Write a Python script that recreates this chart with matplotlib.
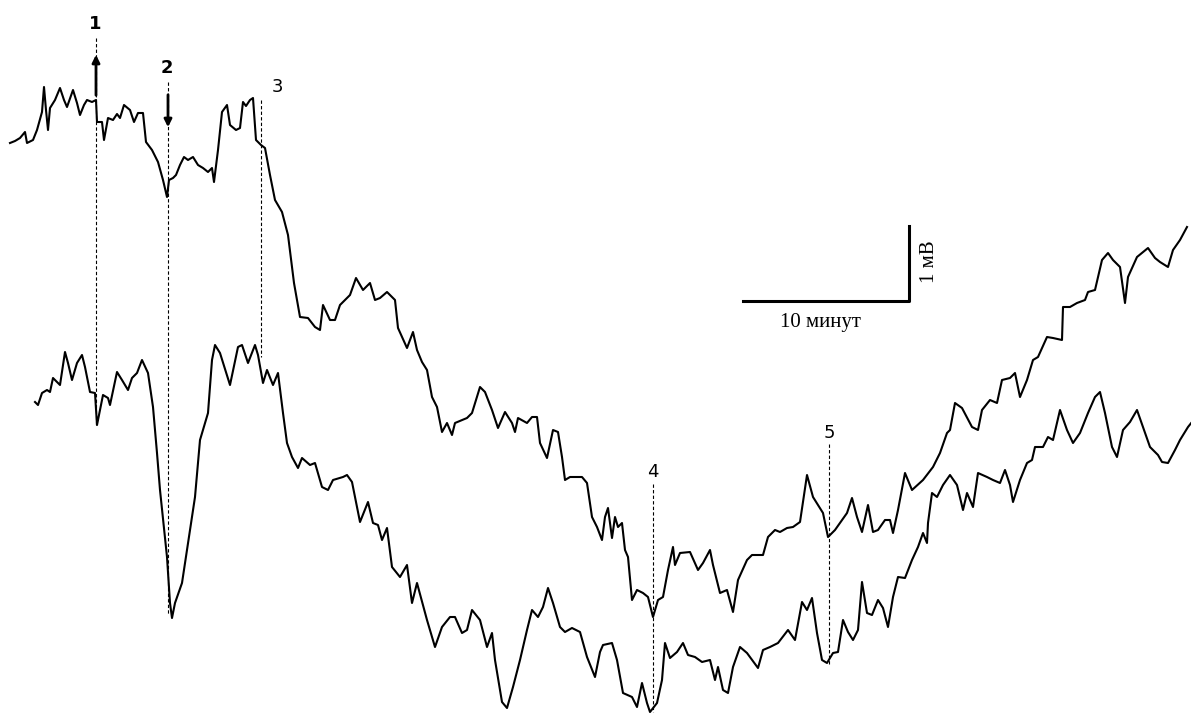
import numpy as np
import matplotlib
matplotlib.use('Agg')
import matplotlib.pyplot as plt

# traces (x: time, y: potential, both in image units)
upper_x = [10, 15, 20, 25, 27, 33, 37, 42, 44, 46, 48, 50, 55, 60, 64, 67, 73, 77, 80, 84,
           87, 92, 96, 97, 102, 104, 108, 113, 117, 120, 124, 130, 134, 138, 143, 146, 152, 158, 163, 167,
           169, 173, 176, 180, 184, 188, 193, 198, 203, 208, 212, 214, 218, 222, 227, 230, 236, 240, 243, 246,
           250, 253, 256, 261, 265, 270, 275, 282, 288, 294, 300, 308, 315, 320, 323, 330, 335, 340, 345, 350,
           356, 363, 370, 375, 380, 387, 395, 398, 402, 407, 413, 417, 422, 427, 432, 437, 442, 447, 452, 455,
           467, 472, 480, 485, 492, 498, 505, 512, 515, 518, 527, 532, 537, 540, 547, 553, 558, 562, 565, 570,
           582, 587, 592, 597, 602, 605, 608, 612, 615, 618, 622, 625, 628, 632, 637, 643, 648, 653, 658, 663,
           668, 673, 675, 680, 690, 698, 703, 710, 713, 720, 727, 733, 738, 747, 752, 763, 768, 775, 780, 787,
           793, 800, 807, 813, 823, 828, 835, 842, 847, 852, 857, 862, 868, 873, 878, 885, 890, 893, 898, 905,
           912, 923, 933, 940, 947, 950, 955, 962, 972, 978, 982, 990, 997, 1002, 1010, 1015, 1020, 1027, 1033, 1038,
           1047, 1053, 1062, 1063, 1070, 1077, 1085, 1088, 1095, 1102, 1108, 1113, 1120, 1125, 1128, 1137, 1148, 1155, 1160, 1168,
           1173, 1180, 1187]
upper_y = [143, 141, 138, 132, 143, 140, 130, 112, 87, 110, 130, 108, 100, 88, 100, 107, 90, 103, 115, 105,
           100, 102, 100, 122, 122, 140, 118, 120, 114, 118, 105, 110, 122, 113, 113, 142, 150, 162, 180, 197,
           180, 178, 175, 165, 157, 160, 157, 165, 168, 172, 168, 182, 150, 112, 105, 125, 130, 128, 102, 106,
           100, 98, 140, 145, 148, 175, 200, 212, 235, 283, 317, 318, 327, 330, 305, 320, 320, 305, 300, 295,
           278, 290, 283, 300, 298, 292, 300, 328, 337, 348, 332, 350, 362, 370, 397, 407, 432, 423, 435, 423,
           418, 413, 387, 392, 410, 428, 412, 423, 432, 418, 423, 417, 417, 443, 458, 430, 432, 457, 480, 477,
           477, 483, 517, 527, 540, 517, 508, 538, 517, 527, 523, 550, 557, 600, 590, 593, 597, 617, 600, 597,
           570, 547, 565, 553, 552, 570, 563, 550, 565, 593, 590, 612, 580, 560, 555, 555, 537, 530, 532, 528,
           527, 522, 475, 497, 513, 537, 530, 520, 513, 498, 517, 532, 505, 532, 530, 520, 520, 533, 510, 473,
           490, 480, 467, 453, 433, 430, 403, 408, 427, 430, 410, 400, 403, 380, 378, 373, 397, 380, 360, 357,
           337, 338, 340, 307, 307, 303, 300, 292, 290, 260, 253, 260, 267, 303, 277, 257, 248, 258, 262, 267,
           250, 240, 227]

lower_x = [35, 38, 42, 47, 50, 53, 60, 65, 68, 72, 77, 82, 85, 90, 95, 97, 100, 103, 108, 110,
           117, 122, 128, 132, 137, 142, 148, 153, 157, 160, 167, 170, 172, 175, 182, 188, 195, 200, 208, 212,
           215, 220, 230, 238, 242, 248, 255, 258, 263, 267, 273, 278, 283, 287, 292, 298, 302, 310, 315, 322,
           328, 333, 343, 347, 352, 360, 368, 373, 378, 382, 387, 392, 400, 407, 412, 417, 427, 435, 442, 450,
           455, 462, 467, 472, 480, 487, 492, 495, 502, 507, 513, 520, 527, 532, 538, 543, 548, 553, 560, 565,
           572, 580, 587, 595, 600, 603, 612, 617, 623, 632, 637, 642, 647, 650, 657, 662, 665, 670, 677, 683,
           688, 695, 702, 710, 715, 718, 723, 728, 733, 740, 747, 758, 763, 770, 778, 788, 795, 802, 807, 812,
           817, 822, 827, 833, 838, 843, 848, 853, 858, 862, 867, 872, 878, 883, 888, 893, 898, 905, 912, 918,
           923, 927, 928, 932, 937, 943, 950, 957, 963, 967, 973, 978, 987, 993, 1000, 1005, 1010, 1013, 1020, 1027,
           1032, 1035, 1043, 1048, 1053, 1060, 1067, 1073, 1080, 1088, 1095, 1100, 1105, 1112, 1117, 1123, 1130, 1137, 1143, 1150,
           1158, 1162, 1168, 1175, 1180, 1188, 1192]
lower_y = [402, 405, 393, 390, 392, 378, 385, 352, 363, 380, 363, 355, 367, 392, 393, 425, 410, 395, 398, 405,
           372, 380, 390, 378, 373, 360, 373, 407, 453, 490, 557, 603, 618, 603, 583, 543, 497, 440, 413, 360,
           345, 353, 385, 347, 345, 363, 345, 355, 383, 370, 385, 373, 413, 443, 457, 468, 458, 465, 463, 487,
           490, 480, 477, 475, 482, 522, 502, 523, 525, 540, 528, 567, 577, 565, 603, 583, 620, 647, 627, 617,
           617, 633, 630, 610, 620, 647, 633, 660, 702, 708, 687, 660, 630, 610, 617, 607, 588, 603, 627, 632,
           628, 632, 657, 677, 652, 645, 643, 660, 693, 697, 707, 683, 703, 712, 703, 680, 643, 658, 652, 643,
           655, 657, 662, 660, 680, 667, 690, 693, 667, 647, 653, 668, 650, 647, 643, 630, 640, 602, 610, 598,
           633, 660, 663, 653, 652, 620, 632, 640, 630, 582, 613, 615, 600, 608, 627, 597, 577, 578, 560, 547,
           533, 543, 523, 493, 497, 485, 475, 485, 510, 493, 507, 473, 477, 480, 483, 470, 485, 502, 480, 463,
           460, 447, 447, 437, 440, 410, 430, 443, 433, 413, 397, 392, 413, 447, 457, 430, 422, 410, 427, 447,
           455, 462, 463, 450, 440, 427, 422]

marker_labels = ['1', '2', '3', '4', '5']
marker_x = [96, 168, 261, 653, 829]

fig = plt.figure(figsize=(11.91, 7.14), dpi=100)
ax = fig.add_axes([0, 0, 1, 1])
ax.set_xlim(0, 1191)
ax.set_ylim(714, 0)
ax.axis('off')

ax.plot(upper_x, upper_y, color='black', lw=1.5)
ax.plot(lower_x, lower_y, color='black', lw=1.5)

# dashed event markers (top, bottom)
spans = [(38, 425), (82, 615), (100, 357), (484, 712), (444, 665)]
label_pos = [(95, 24), (167, 68), (277, 87), (653, 472), (829, 433)]
for lab, x, (y0, y1), (lx, ly) in zip(marker_labels, marker_x, spans, label_pos):
    ax.plot([x, x], [y0, y1], color='black', lw=0.8, ls=(0, (3, 2)))
    ax.text(lx, ly, lab, ha='center', va='center', fontsize=13,
            fontweight='bold' if lab in ('1', '2') else 'normal', family='DejaVu Sans')

# arrows for stimulus on/off
ax.annotate('', xy=(96, 52), xytext=(96, 98),
            arrowprops=dict(arrowstyle='-|>', color='black', lw=2, mutation_scale=11))
ax.annotate('', xy=(168, 130), xytext=(168, 92),
            arrowprops=dict(arrowstyle='-|>', color='black', lw=2, mutation_scale=11))

# scale bar
ax.plot([743, 909, 909], [301, 301, 226], color='black', lw=2.2)
ax.text(820, 322, '10 минут', ha='center', va='center', fontsize=15, family='Liberation Serif')
ax.text(929, 262, '1 мВ', ha='center', va='center', fontsize=15, rotation=90, family='Liberation Serif')

fig.savefig('out.png', dpi=100, facecolor='white')
